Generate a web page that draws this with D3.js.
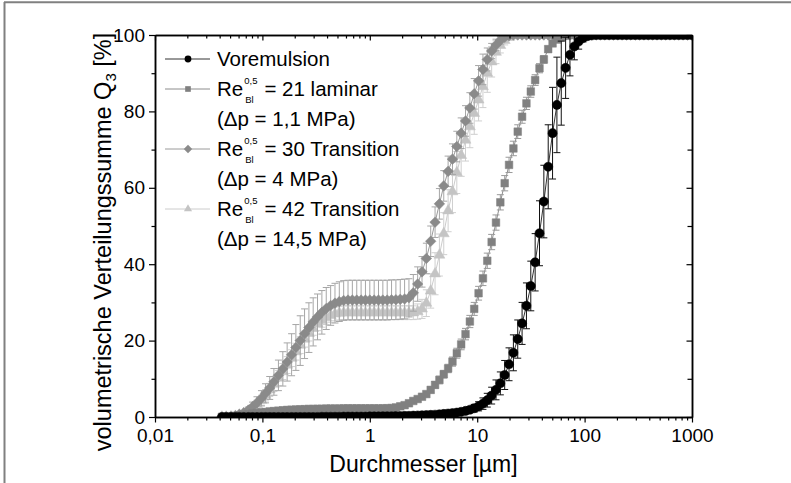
<!DOCTYPE html>
<html>
<head>
<meta charset="utf-8">
<script src="https://cdn.jsdelivr.net/npm/d3@7"></script>
<style>
  body { margin: 0; background: #fff; }
  svg { display: block; font-family: "Liberation Sans", Arial, sans-serif; }
</style>
</head>
<body>
<svg id="chart" width="791" height="483"></svg>
<script>
// particle size classes [µm]
const sizes = [
  0.042, 0.046, 0.051, 0.056, 0.061, 0.067, 0.074, 0.081, 0.089, 0.098,
  0.107, 0.117, 0.128, 0.141, 0.155, 0.170, 0.187, 0.205, 0.225, 0.247,
  0.271, 0.297, 0.326, 0.358, 0.393, 0.432, 0.474, 0.520, 0.571, 0.627,
  0.688, 0.756, 0.830, 0.911, 1.000, 1.098, 1.205, 1.323, 1.452, 1.594,
  1.750, 1.921, 2.109, 2.315, 2.541, 2.790, 3.063, 3.362, 3.691, 4.052,
  4.448, 4.883, 5.361, 5.885, 6.460, 7.092, 7.785, 8.546, 9.382, 10.30,
  11.31, 12.41, 13.63, 14.96, 16.42, 18.03, 19.79, 21.73, 23.85, 26.18,
  28.74, 31.55, 34.64, 38.03, 41.74, 45.83, 50.31, 55.23, 60.63, 66.56,
  73.07, 80.21, 88.06, 96.67, 106.1, 116.5, 127.9, 140.4, 154.1, 169.2,
  185.7, 203.9, 223.8, 245.7, 269.7, 296.1, 325.1, 356.8, 391.7, 430.0,
  472.1, 518.3, 568.9, 624.6, 685.6, 752.7, 826.3, 907.1, 995.8
];

// Voremulsion
const q3Vor = [
  0, 0, 0, 0, 0, 0, 0, 0, 0, 0,
  0, 0, 0, 0, 0, 0, 0, 0, 0, 0,
  0, 0, 0, 0.05, 0.05, 0.05, 0.05, 0.05, 0.1, 0.1,
  0.1, 0.1, 0.1, 0.1, 0.15, 0.15, 0.15, 0.2, 0.2, 0.2,
  0.25, 0.25, 0.3, 0.3, 0.35, 0.4, 0.45, 0.5, 0.55, 0.6,
  0.7, 0.8, 0.9, 1.0, 1.15, 1.35, 1.6, 1.9, 2.3, 2.8,
  3.5, 4.4, 5.6, 7.1, 8.8, 11, 13.8, 16.8, 20.4, 24.5,
  29.1, 34.3, 40.5, 48.1, 56.4, 65.5, 74.3, 81.7, 87.4, 91.4,
  94.8, 97, 98.3, 99.2, 99.7, 99.9, 100, 100, 100, 100,
  100, 100, 100, 100, 100, 100, 100, 100, 100, 100,
  100, 100, 100, 100, 100, 100, 100, 100, 100
];
const errVor = [
  0, 0, 0, 0, 0, 0, 0, 0, 0, 0,
  0, 0, 0, 0, 0, 0, 0, 0, 0, 0,
  0, 0, 0, 0, 0, 0, 0, 0, 0, 0,
  0, 0, 0, 0, 0, 0, 0, 0, 0, 0,
  0, 0, 0, 0, 0, 0, 0, 0, 0, 0,
  0.2, 0.2, 0.3, 0.3, 0.4, 0.5, 0.6, 0.8, 1.0, 1.2,
  1.5, 1.8, 2.2, 2.6, 3, 3.8, 4.3, 4.7, 5, 5.5,
  6, 6.5, 7.5, 8.5, 9.5, 11, 12, 12.5, 11, 8,
  5.5, 3.5, 2, 1, 0.5, 0.2, 0, 0, 0, 0,
  0, 0, 0, 0, 0, 0, 0, 0, 0, 0,
  0, 0, 0, 0, 0, 0, 0, 0, 0
];

// Re 21 laminar (1,1 MPa)
const q3Lam = [
  0.05, 0.1, 0.2, 0.3, 0.45, 0.6, 0.75, 0.9, 1.05, 1.2,
  1.3, 1.45, 1.55, 1.65, 1.75, 1.85, 1.9, 1.95, 2.0, 2.05,
  2.1, 2.1, 2.15, 2.15, 2.2, 2.2, 2.2, 2.2, 2.25, 2.25,
  2.25, 2.25, 2.25, 2.25, 2.25, 2.25, 2.25, 2.25, 2.3, 2.35,
  2.5, 2.8, 3.1, 3.6, 4.2, 4.7, 5.3, 6.0, 7.1, 8.4,
  9.7, 11.2, 12.7, 14.5, 16.7, 19, 21.7, 25, 28.3, 32.4,
  36.3, 40.9, 45.8, 50.9, 56.2, 61.2, 66, 70.3, 74.7, 78.6,
  82.1, 85.2, 88.2, 91.3, 93.6, 96.3, 97.8, 98.8, 99.4, 99.8,
  100, 100, 100, 100, 100, 100, 100, 100, 100, 100,
  100, 100, 100, 100, 100, 100, 100, 100, 100, 100,
  100, 100, 100, 100, 100, 100, 100, 100, 100
];
const errLam = [
  0.1, 0.1, 0.1, 0.2, 0.2, 0.2, 0.3, 0.3, 0.3, 0.3,
  0.3, 0.3, 0.3, 0.3, 0.3, 0.3, 0.3, 0.3, 0.3, 0.3,
  0.3, 0.3, 0.3, 0.3, 0.3, 0.3, 0.3, 0.3, 0.3, 0.3,
  0.3, 0.3, 0.3, 0.3, 0.3, 0.3, 0.3, 0.3, 0.3, 0.3,
  0.4, 0.4, 0.5, 0.5, 0.5, 0.6, 0.6, 0.7, 0.8, 0.9,
  1, 1, 1.1, 1.2, 1.3, 1.4, 1.5, 1.6, 1.7, 1.8,
  1.9, 2, 2, 2, 2, 2, 2, 1.9, 1.8, 1.7,
  1.6, 1.5, 1.4, 1.2, 1, 0.8, 0.6, 0.4, 0.2, 0.1,
  0, 0, 0, 0, 0, 0, 0, 0, 0, 0,
  0, 0, 0, 0, 0, 0, 0, 0, 0, 0,
  0, 0, 0, 0, 0, 0, 0, 0, 0
];

// Re 30 Transition (4 MPa)
const q3Re30 = [
  0, 0.05, 0.1, 0.3, 0.7, 1.1, 1.8, 2.7, 3.7, 4.9,
  6.2, 7.6, 9.2, 10.9, 12.6, 14.4, 16.3, 18.2, 20, 21.8,
  23.4, 24.9, 26.2, 27.4, 28.4, 29.2, 29.8, 30.2, 30.5, 30.6,
  30.6, 30.6, 30.6, 30.6, 30.6, 30.6, 30.6, 30.6, 30.6, 30.7,
  30.7, 30.8, 30.9, 31.2, 32.5, 34.8, 38, 41.5, 46, 51,
  55.8, 60.5, 64.3, 67.5, 70.8, 74.3, 77.5, 80.9, 84.6, 88,
  91, 93.6, 95.8, 97.4, 98.6, 99.4, 99.8, 100, 100, 100,
  100, 100, 100, 100, 100, 100, 100, 100, 100, 100,
  100, 100, 100, 100, 100, 100, 100, 100, 100, 100,
  100, 100, 100, 100, 100, 100, 100, 100, 100, 100,
  100, 100, 100, 100, 100, 100, 100, 100, 100
];
const errRe30 = [
  0, 0, 0, 0, 0.3, 0.5, 0.8, 1.2, 1.6, 2,
  2.5, 3, 3.5, 4, 4.5, 5, 5.5, 6, 6.5, 6.5,
  6.5, 6.3, 6, 5.7, 5.5, 5.2, 5.2, 5.2, 5.2, 5.2,
  5.2, 5.2, 5.2, 5.2, 5.2, 5.2, 5.2, 5.2, 5.2, 5.2,
  5.2, 5.2, 5.2, 5, 4.8, 4.5, 4, 4, 4, 4,
  4, 4, 4, 4, 4, 4, 4, 4, 4, 4,
  4, 3, 2, 1.5, 1, 0.5, 0.2, 0, 0, 0,
  0, 0, 0, 0, 0, 0, 0, 0, 0, 0,
  0, 0, 0, 0, 0, 0, 0, 0, 0, 0,
  0, 0, 0, 0, 0, 0, 0, 0, 0, 0,
  0, 0, 0, 0, 0, 0, 0, 0, 0
];

// Re 42 Transition (14,5 MPa)
const q3Re42 = [
  0, 0, 0.05, 0.2, 0.5, 0.9, 1.5, 2.3, 3.3, 4.4,
  5.7, 7.1, 8.6, 10.2, 11.9, 13.6, 15.4, 17.1, 18.8, 20.4,
  21.9, 23.2, 24.4, 25.3, 26, 26.6, 27, 27.2, 27.3, 27.3,
  27.3, 27.3, 27.3, 27.3, 27.3, 27.3, 27.3, 27.3, 27.3, 27.3,
  27.3, 27.3, 27.3, 27.3, 27.3, 27.6, 28.3, 29.8, 33, 37.5,
  42.4, 48, 54, 59, 64, 68.5, 72.5, 76, 79.5, 83,
  86.5, 90, 93, 95.5, 97.3, 98.6, 99.4, 99.8, 100, 100,
  100, 100, 100, 100, 100, 100, 100, 100, 100, 100,
  100, 100, 100, 100, 100, 100, 100, 100, 100, 100,
  100, 100, 100, 100, 100, 100, 100, 100, 100, 100,
  100, 100, 100, 100, 100, 100, 100, 100, 100
];
const errRe42 = [
  0, 0, 0, 0.1, 0.3, 0.5, 0.7, 0.9, 1.1, 1.3,
  1.5, 1.7, 1.9, 2, 2.1, 2.2, 2.2, 2.2, 2.2, 2.1,
  2, 1.8, 1.8, 1.8, 1.8, 1.8, 1.8, 1.8, 1.8, 1.8,
  1.8, 1.8, 1.8, 1.8, 1.8, 1.8, 1.8, 1.8, 1.8, 1.8,
  1.8, 1.8, 1.8, 1.8, 1.8, 2, 2.5, 3.5, 4.5, 5.5,
  5.5, 5.5, 5.5, 5.5, 5.5, 5.5, 5.5, 5.5, 5.5, 5.5,
  5.5, 5, 4, 3, 2, 1.2, 0.6, 0.3, 0, 0,
  0, 0, 0, 0, 0, 0, 0, 0, 0, 0,
  0, 0, 0, 0, 0, 0, 0, 0, 0, 0,
  0, 0, 0, 0, 0, 0, 0, 0, 0, 0,
  0, 0, 0, 0, 0, 0, 0, 0, 0
];

const xTicks = [0.01, 0.1, 1, 10, 100, 1000];
const xTickLabels = ["0,01", "0,1", "1", "10", "100", "1000"];
const yTicks = [0, 20, 40, 60, 80, 100];
const yMinor = [10, 30, 50, 70, 90];
const legendNames = ["Voremulsion", "= 21 laminar", "= 30 Transition", "= 42 Transition"];
const legendNotes = ["(\u0394p = 1,1 MPa)", "(\u0394p = 4 MPa)", "(\u0394p = 14,5 MPa)"];

var svg = d3.select("#chart");

// outer frame (top and left edge only)
svg.append("line").attr("x1", 4).attr("x2", 791).attr("y1", 2.2).attr("y2", 2.2)
  .attr("stroke", "#808080").attr("stroke-width", 2);
svg.append("line").attr("x1", 4.5).attr("x2", 4.5).attr("y1", 2).attr("y2", 483)
  .attr("stroke", "#808080").attr("stroke-width", 2);

var pl = 155, pr = 692, pt = 35, pb = 417;
var x = d3.scaleLog().domain([0.01, 1000]).range([pl, pr]);
var y = d3.scaleLinear().domain([0, 100]).range([pb, pt]);

var xMinor = [];
[0.01, 0.1, 1, 10, 100].forEach(d => { for (var k = 2; k <= 9; k++) xMinor.push(d * k); });

svg.append("clipPath").attr("id", "plotclip")
  .append("rect").attr("x", pl).attr("y", pt).attr("width", pr - pl).attr("height", pb - pt);

var plot = svg.append("g").attr("clip-path", "url(#plotclip)");

var series = [
  {q: q3Re42, e: errRe42, sym: "triangle", fill: "#c4c4c4", line: "#cccccc", bar: "#cfcfcf"},
  {q: q3Re30, e: errRe30, sym: "diamond", fill: "#8a8a8a", line: "#9a9a9a", bar: "#a6a6a6"},
  {q: q3Lam, e: errLam, sym: "square", fill: "#808080", line: "#8c8c8c", bar: "#9a9a9a"},
  {q: q3Vor, e: errVor, sym: "circle", fill: "#000000", line: "#333333", bar: "#111111"}
];

function symPath(sym, small) {
  var s = small ? 0.55 : 1;
  if (sym === "diamond") {
    var h = (small ? 4.2 : 5.3);
    return "M0," + (-h) + "L" + h + ",0L0," + h + "L" + (-h) + ",0Z";
  }
  var type = {circle: d3.symbolCircle, square: d3.symbolSquare, triangle: d3.symbolTriangle}[sym];
  var size = {circle: 66, square: 58, triangle: 52}[sym] * s;
  return d3.symbol(type, size)();
}

series.forEach(function(s) {
  var pts = sizes.map((d, i) => ({d: d, v: s.q[i], e: s.e[i]}));
  var line = d3.line().x(p => x(p.d)).y(p => y(p.v));
  var g = plot.append("g");
  g.append("path").datum(pts).attr("fill", "none").attr("stroke", s.line)
    .attr("stroke-width", 1).attr("d", line);
  var bars = g.append("g").attr("stroke", s.bar).attr("stroke-width", 1).attr("fill", "none");
  pts.filter(p => p.e > 0).forEach(function(p) {
    var cx = x(p.d), y1 = y(p.v + p.e), y2 = y(p.v - p.e);
    bars.append("path").attr("d",
      "M" + cx + "," + y1 + "V" + y2 +
      "M" + (cx - 3.5) + "," + y1 + "H" + (cx + 3.5) +
      "M" + (cx - 3.5) + "," + y2 + "H" + (cx + 3.5));
  });
  g.selectAll("path.mk").data(pts).join("path").attr("class", "mk")
    .attr("transform", p => "translate(" + x(p.d) + "," + y(p.v) + ")")
    .attr("d", symPath(s.sym, false))
    .attr("fill", s.fill).attr("stroke", s.fill).attr("stroke-width", 0.5);
});

// axes
var axisStyle = function(g, size) {
  g.select(".domain").attr("stroke", "#000").attr("stroke-width", 1.5);
  g.selectAll(".tick line").attr("stroke", "#000").attr("stroke-width", 1.2);
  g.selectAll(".tick text").attr("fill", "#000").style("font-size", size + "px")
    .style("font-family", '"Liberation Sans", Arial, sans-serif');
};

svg.append("g").attr("transform", "translate(0," + pb + ")")
  .call(d3.axisBottom(x).tickValues(xMinor).tickFormat("").tickSizeInner(3.5).tickSizeOuter(0))
  .call(g => axisStyle(g, 19));
svg.append("g").attr("transform", "translate(0," + pb + ")")
  .call(d3.axisBottom(x).tickValues(xTicks).tickFormat((d, i) => xTickLabels[i])
    .tickSizeInner(5.5).tickSizeOuter(0).tickPadding(6))
  .call(g => axisStyle(g, 19));

svg.append("g").attr("transform", "translate(0," + pt + ")")
  .call(d3.axisTop(x).tickValues(xMinor).tickFormat("").tickSizeInner(-3.5).tickSizeOuter(0))
  .call(g => axisStyle(g, 19));
svg.append("g").attr("transform", "translate(0," + pt + ")")
  .call(d3.axisTop(x).tickValues(xTicks).tickFormat("").tickSizeInner(-5.5).tickSizeOuter(0))
  .call(g => axisStyle(g, 19));

svg.append("g").attr("transform", "translate(" + pl + ",0)")
  .call(d3.axisLeft(y).tickValues(yMinor).tickFormat("").tickSizeInner(3.5).tickSizeOuter(0))
  .call(g => axisStyle(g, 19));
svg.append("g").attr("transform", "translate(" + pl + ",0)")
  .call(d3.axisLeft(y).tickValues(yTicks).tickFormat(d3.format("d"))
    .tickSizeInner(6).tickSizeOuter(0).tickPadding(4))
  .call(g => axisStyle(g, 19));

svg.append("g").attr("transform", "translate(" + pr + ",0)")
  .call(d3.axisRight(y).tickValues(yMinor).tickFormat("").tickSizeInner(-4.5).tickSizeOuter(0))
  .call(g => axisStyle(g, 19));
svg.append("g").attr("transform", "translate(" + pr + ",0)")
  .call(d3.axisRight(y).tickValues(yTicks).tickFormat("").tickSizeInner(-5.5).tickSizeOuter(0))
  .call(g => axisStyle(g, 19));

// axis titles
svg.append("text").attr("x", (pl + pr) / 2).attr("y", 472)
  .attr("text-anchor", "middle").style("font-size", "23px").text("Durchmesser [\u00b5m]");

var yt = svg.append("text").attr("transform", "translate(111,242) rotate(-90)")
  .attr("text-anchor", "middle").style("font-size", "23.5px");
yt.append("tspan").text("volumetrische Verteilungssumme Q");
yt.append("tspan").attr("dy", 5).style("font-size", "15px").text("3");
yt.append("tspan").attr("dy", -5).text(" [%]");

// legend
var lg = svg.append("g");
var legendSeries = [series[3], series[2], series[1], series[0]];
var rowBase = [65.5, 95.5, 155.5, 215.5];
var noteBase = [125.5, 185.5, 245.5];
var textX = 217;

legendSeries.forEach(function(s, k) {
  var yb = rowBase[k], ly = yb - 6.5;
  lg.append("line").attr("x1", 165).attr("x2", 210).attr("y1", ly).attr("y2", ly)
    .attr("stroke", s.line).attr("stroke-width", 1);
  lg.append("path").attr("transform", "translate(188," + ly + ")")
    .attr("d", symPath(s.sym, true)).attr("fill", s.fill);
  if (k === 0) {
    lg.append("text").attr("x", textX).attr("y", yb).style("font-size", "20.5px").text(legendNames[0]);
    return;
  }
  var re = lg.append("text").attr("x", textX).attr("y", yb).style("font-size", "20.5px").text("Re");
  var xs = textX + re.node().getComputedTextLength() + 1;
  var sup = lg.append("text").attr("x", xs).attr("y", yb - 12).style("font-size", "9.5px").text("0,5");
  var sub = lg.append("text").attr("x", xs + 1).attr("y", yb + 7.5).style("font-size", "9.5px").text("Bl");
  var xr = xs + Math.max(sup.node().getComputedTextLength(), sub.node().getComputedTextLength()) + 7;
  lg.append("text").attr("x", xr).attr("y", yb).style("font-size", "20.5px").text(legendNames[k]);
  lg.append("text").attr("x", textX).attr("y", noteBase[k - 1]).style("font-size", "20.5px").text(legendNotes[k - 1]);
});
</script>
</body>
</html>
